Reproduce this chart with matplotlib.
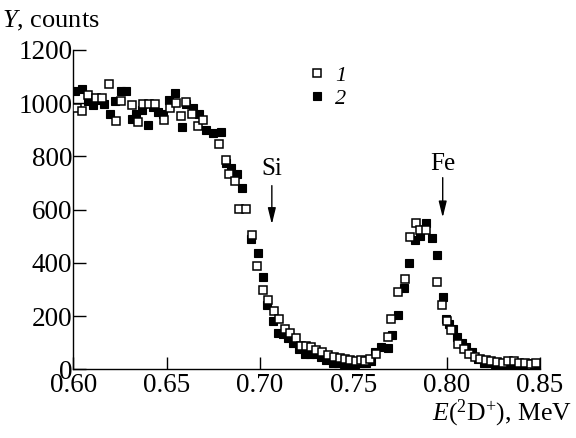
import matplotlib
matplotlib.use("Agg")
import matplotlib.pyplot as plt

plt.rcParams['font.family'] = ['Liberation Serif', 'DejaVu Serif']
plt.rcParams['mathtext.fontset'] = 'custom'
plt.rcParams['mathtext.rm'] = 'Liberation Serif'
plt.rcParams['mathtext.it'] = 'Liberation Serif:italic'

# Series 1 (open squares)
s1_x = [0.6018, 0.6050, 0.6082, 0.6125, 0.6157, 0.6193, 0.6229, 0.6256, 0.6315, 0.6345,
        0.6372, 0.6404, 0.6438, 0.6488, 0.6520, 0.6551, 0.6578, 0.6605, 0.6637, 0.6667,
        0.6694, 0.6783, 0.6819, 0.6837, 0.6869, 0.6890, 0.6926, 0.6959, 0.6986, 0.7016,
        0.7046, 0.7075, 0.7105, 0.7132, 0.7159, 0.7191, 0.7222, 0.7248, 0.7275, 0.7302,
        0.7334, 0.7364, 0.7395, 0.7427, 0.7454, 0.7484, 0.7513, 0.7543, 0.7561, 0.7588,
        0.7624, 0.7685, 0.7704, 0.7740, 0.7776, 0.7803, 0.7835, 0.7860, 0.7892, 0.7949,
        0.7973, 0.8003, 0.8021, 0.8062, 0.8092, 0.8121, 0.8151, 0.8180, 0.8210, 0.8240,
        0.8270, 0.8300, 0.8330, 0.8360, 0.8390, 0.8420, 0.8450, 0.8480]
s1_y = [980, 971, 1029, 1020, 1020, 1072, 934, 1008, 992, 928,
        998, 998, 996, 936, 982, 1000, 952, 1004, 961, 915,
        936, 847, 788, 732, 707, 604, 604, 503, 389, 298,
        261, 220, 187, 150, 137, 119, 88, 88, 82, 72,
        63, 55, 45, 42, 38, 35, 32, 35, 30, 38,
        57, 122, 189, 292, 338, 497, 550, 524, 524, 329,
        243, 181, 146, 94, 75, 57, 45, 38, 35, 30,
        28, 25, 30, 30, 25, 22, 20, 22]

# Series 2 (filled squares)
s2_x = [0.6011, 0.6047, 0.6077, 0.6104, 0.6139, 0.6166, 0.6198, 0.6225, 0.6256, 0.6283,
        0.6315, 0.6336, 0.6368, 0.6399, 0.6425, 0.6452, 0.6479, 0.6515, 0.6547, 0.6583,
        0.6605, 0.6640, 0.6672, 0.6712, 0.6751, 0.6792, 0.6819, 0.6846, 0.6876, 0.6905,
        0.6953, 0.6989, 0.7016, 0.7039, 0.7069, 0.7096, 0.7123, 0.7150, 0.7177, 0.7212,
        0.7239, 0.7266, 0.7298, 0.7329, 0.7356, 0.7391, 0.7418, 0.7450, 0.7481, 0.7508,
        0.7534, 0.7570, 0.7597, 0.7615, 0.7651, 0.7686, 0.7710, 0.7740, 0.7770, 0.7799,
        0.7829, 0.7860, 0.7888, 0.7919, 0.7946, 0.7978, 0.7999, 0.8013, 0.8035, 0.8053,
        0.8080, 0.8103, 0.8134, 0.8169, 0.8200, 0.8230, 0.8260, 0.8290, 0.8320, 0.8350,
        0.8380, 0.8410, 0.8440, 0.8470, 0.8495]
s2_y = [1045, 1054, 1008, 992, 1010, 998, 961, 1008, 1045, 1045,
        942, 961, 973, 918, 986, 967, 961, 1013, 1038, 911,
        998, 980, 961, 899, 887, 893, 775, 757, 732, 682,
        488, 438, 345, 243, 181, 137, 131, 119, 97, 75,
        57, 57, 57, 47, 35, 22, 22, 20, 20, 20,
        22, 22, 32, 63, 84, 78, 129, 202, 305, 400,
        484, 500, 550, 493, 431, 270, 189, 171, 150, 121,
        100, 84, 66, 38, 25, 22, 20, 18, 20, 18,
        15, 20, 22, 18, 15]

series_labels = ['1', '2']
x_ticks = [0.60, 0.65, 0.70, 0.75, 0.80, 0.85]
x_ticklabels = ['0.60', '0.65', '0.70', '0.75', '0.80', '0.85']
y_ticks = [0, 200, 400, 600, 800, 1000, 1200]

peaks = [('Si', 0.7064, 690, 545, 752), ('Fe', 0.7979, 720, 570, 772)]

fig = plt.figure(figsize=(5.76, 4.38), dpi=100)
ax = fig.add_axes([0.127, 0.157, 0.8105, 0.729])

ax.plot(s2_x, s2_y, linestyle='none', marker='s', ms=5.2, mfc='black',
        mec='black', mew=0.8, label=series_labels[1], zorder=3)
ax.plot(s1_x, s1_y, linestyle='none', marker='s', ms=5.2, mfc='white',
        mec='black', mew=1.1, label=series_labels[0], zorder=4)

ax.set_xlim(0.60, 0.85)
ax.set_ylim(0, 1200)
ax.set_xticks(x_ticks)
ax.set_xticklabels(x_ticklabels)
ax.set_yticks(y_ticks)

for s in ['top', 'right']:
    ax.spines[s].set_visible(False)
for s in ['left', 'bottom']:
    ax.spines[s].set_linewidth(1.0)

ax.tick_params(axis='both', direction='in', length=9, width=1.0, labelsize=19.5)
ax.tick_params(axis='x', pad=3)
ax.tick_params(axis='y', pad=0.5)

for name, xp, y0, y1, yt in peaks:
    ax.annotate('', xy=(xp, y1), xytext=(xp, y0),
                arrowprops=dict(arrowstyle='-|>,head_length=0.65,head_width=0.16',
                                mutation_scale=15, lw=1.0, color='black',
                                shrinkA=0, shrinkB=0))
    ax.text(xp, yt, name, ha='center', va='center', fontsize=18)

handles, labels = ax.get_legend_handles_labels()
leg = ax.legend(handles[::-1], labels[::-1], loc='upper left',
                bbox_to_anchor=(0.49, 0.98), frameon=False, handlelength=0.6,
                handletextpad=0.5, labelspacing=0.1, borderaxespad=0,
                prop={'style': 'italic', 'size': 16})

fig.text(0.004, 0.938, r'$\mathit{Y}$, counts', fontsize=19, ha='left', va='baseline')
fig.text(0.994, 0.040, r'$\mathit{E}$($^{2}$D$^{+}$), MeV', fontsize=18.5,
         ha='right', va='baseline')

fig.savefig('out.png', dpi=100)
